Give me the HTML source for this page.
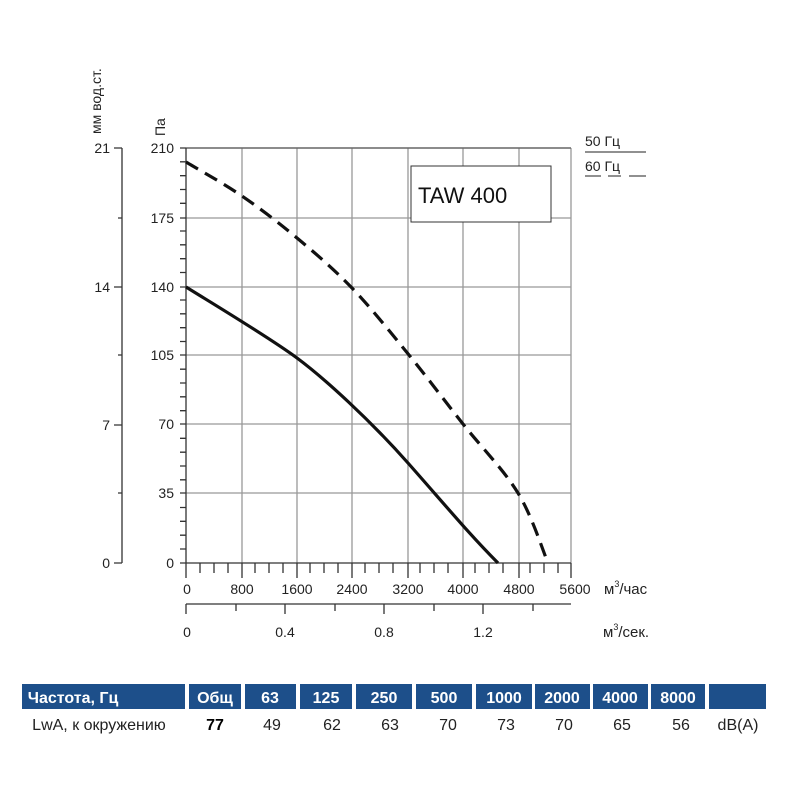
<!DOCTYPE html>
<html><head><meta charset="utf-8"><style>
body{margin:0;background:#fff;width:800px;height:800px;overflow:hidden}
svg text{font-family:"Liberation Sans","DejaVu Sans",sans-serif}
</style></head><body>
<svg width="800" height="800" xmlns="http://www.w3.org/2000/svg">
<g stroke="#999" stroke-width="1.3">
<line x1="242" y1="148" x2="242" y2="563"/><line x1="297" y1="148" x2="297" y2="563"/>
<line x1="352" y1="148" x2="352" y2="563"/><line x1="408" y1="148" x2="408" y2="563"/>
<line x1="463" y1="148" x2="463" y2="563"/><line x1="519" y1="148" x2="519" y2="563"/>
<line x1="571" y1="148" x2="571" y2="563"/>
<line x1="186" y1="218" x2="571" y2="218"/><line x1="186" y1="287" x2="571" y2="287"/>
<line x1="186" y1="355" x2="571" y2="355"/><line x1="186" y1="424" x2="571" y2="424"/>
<line x1="186" y1="493" x2="571" y2="493"/>
</g>
<line x1="186" y1="148" x2="571" y2="148" stroke="#666" stroke-width="1.5"/>
<g stroke="#333" stroke-width="1.3" fill="none">
<line x1="186" y1="148" x2="186" y2="563"/>
<line x1="186" y1="563" x2="571" y2="563"/>
<path d="M180 148H186M180 161.8H186M180 175.7H186M180 189.5H186M180 203.3H186M180 218H186M180 231H186M180 244.8H186M180 258.7H186M180 272.5H186M180 287H186M180 300H186M180 313.8H186M180 327.7H186M180 341.5H186M180 355H186M180 369.2H186M180 383H186M180 396.8H186M180 410.7H186M180 424H186M180 438.3H186M180 452.2H186M180 466H186M180 479.8H186M180 493H186M180 507.5H186M180 521.3H186M180 535.2H186M180 549H186M180 563H186"/>
<path d="M186 563V578M200 563V573M214 563V573M228 563V573M242 563V578M255 563V573M269 563V573M283 563V573M297 563V578M310 563V573M324 563V573M338 563V573M352 563V578M365 563V573M379 563V573M393 563V573M408 563V578M420 563V573M434 563V573M448 563V573M463 563V578M475 563V573M489 563V573M503 563V573M519 563V578M530 563V573M544 563V573M558 563V573M571 563V578"/>
<path d="M122 148V563M114 148H122M118 218H122M114 287H122M118 355H122M114 425H122M118 493H122M114 563H122"/>
<path d="M186 604H571M186 604V614M236 604V611M285 604V614M335 604V611M384 604V614M434 604V611M483 604V614M533 604V611"/>
</g>
<g font-size="14" fill="#222" text-anchor="end">
<text x="174" y="153">210</text><text x="174" y="223">175</text><text x="174" y="292">140</text><text x="174" y="360">105</text><text x="174" y="429">70</text><text x="174" y="498">35</text><text x="174" y="568">0</text>
<text x="110" y="153">21</text><text x="110" y="292">14</text><text x="110" y="430">7</text><text x="110" y="568">0</text>
</g>
<g font-size="14" fill="#222" text-anchor="middle">
<text x="187" y="594">0</text><text x="242" y="594">800</text><text x="297" y="594">1600</text><text x="352" y="594">2400</text><text x="408" y="594">3200</text><text x="463" y="594">4000</text><text x="519" y="594">4800</text><text x="575" y="594">5600</text>
<text x="187" y="637">0</text><text x="285" y="637">0.4</text><text x="384" y="637">0.8</text><text x="483" y="637">1.2</text>
</g>
<text x="604" y="594" font-size="15" fill="#222">м<tspan font-size="9" dy="-7">3</tspan><tspan dy="7">/час</tspan></text>
<text x="603" y="637" font-size="15" fill="#222">м<tspan font-size="9" dy="-7">3</tspan><tspan dy="7">/сек.</tspan></text>
<text transform="translate(101,134) rotate(-90)" font-size="14" fill="#222">мм вод.ст.</text>
<text transform="translate(165,136) rotate(-90)" font-size="14" fill="#222">Па</text>
<path d="M186 287 C215 305 270 338 297 358 S370 420 408 463 S470 535 498 563" stroke="#111" stroke-width="3.2" fill="none"/>
<path d="M186 162 C195.3 167.7 223.5 183.3 242 196 C260.5 208.7 278.7 222.7 297 238 C315.3 253.3 333.3 268.5 352 288 C370.7 307.5 390.5 332.3 409 355 C427.5 377.7 444.8 401 463 424 C481.2 447 503.8 469.8 518 493 C532.2 516.2 543 551.3 548 563" stroke="#111" stroke-width="3.2" fill="none" stroke-dasharray="14 8"/>
<rect x="411" y="166" width="140" height="56" fill="#fff" stroke="#333" stroke-width="1"/>
<text x="418" y="203" font-size="22" fill="#111">TAW 400</text>
<text x="585" y="146" font-size="14" fill="#222">50 Гц</text>
<line x1="585" y1="152" x2="646" y2="152" stroke="#222" stroke-width="1"/>
<text x="585" y="171" font-size="14" fill="#222">60 Гц</text>
<path d="M585 176H601M608 176H621M629 176H646" stroke="#222" stroke-width="1"/>
<g fill="#1d4f8a">
<rect x="22" y="684" width="163" height="25"/><rect x="189" y="684" width="52" height="25"/>
<rect x="245" y="684" width="51" height="25"/><rect x="300" y="684" width="52" height="25"/>
<rect x="356" y="684" width="56" height="25"/><rect x="416" y="684" width="56" height="25"/>
<rect x="476" y="684" width="56" height="25"/><rect x="535" y="684" width="55" height="25"/>
<rect x="593" y="684" width="55" height="25"/><rect x="651" y="684" width="54" height="25"/>
<rect x="709" y="684" width="57" height="25"/>
</g>
<g font-size="16" font-weight="bold" fill="#fff" text-anchor="middle">
<text x="73" y="703">Частота, Гц</text><text x="215" y="703">Общ</text><text x="270" y="703">63</text><text x="326" y="703">125</text><text x="384" y="703">250</text><text x="444" y="703">500</text><text x="504" y="703">1000</text><text x="562" y="703">2000</text><text x="620" y="703">4000</text><text x="678" y="703">8000</text>
</g>
<g font-size="16" fill="#222" text-anchor="middle">
<text x="99" y="730">LwA, к окружению</text><text x="215" y="730" font-weight="bold" fill="#000">77</text><text x="272" y="730">49</text><text x="332" y="730">62</text><text x="390" y="730">63</text><text x="448" y="730">70</text><text x="506" y="730">73</text><text x="564" y="730">70</text><text x="622" y="730">65</text><text x="681" y="730">56</text><text x="738" y="730">dB(A)</text>
</g>
</svg>
</body></html>
